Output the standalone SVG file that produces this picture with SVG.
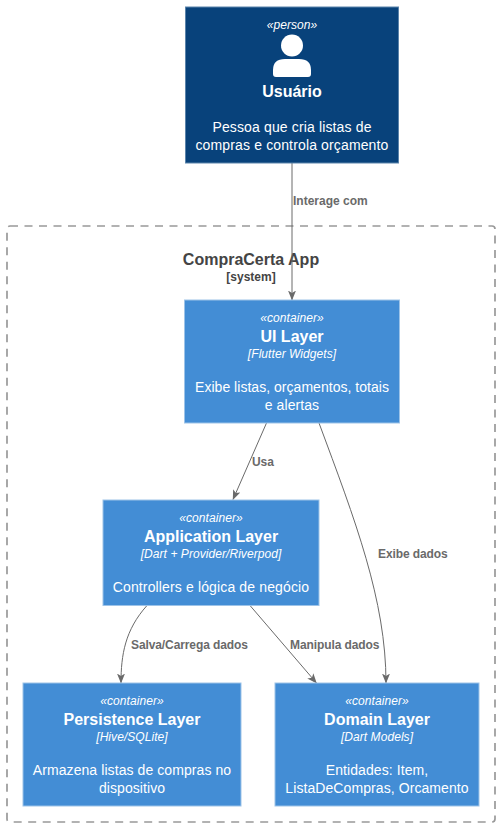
<svg xmlns="http://www.w3.org/2000/svg" width="501" height="828" viewBox="0 0 501 828">
<style>
text{font-family:"Liberation Sans",Arial,sans-serif;text-anchor:middle}
.box{fill:#438DD5;stroke:#9DC3E8;stroke-width:1}
.st{font-size:12px;font-style:italic;fill:#fff;letter-spacing:.06px}
.ti{font-size:16px;font-weight:bold;fill:#fff}
.de{font-size:14px;fill:#fff;letter-spacing:.08px}
.de2{letter-spacing:.14px}
.c{fill:none;stroke:#6a6a6a;stroke-width:1}
.l{font-size:12px;font-weight:bold;fill:#6a6a6a;text-anchor:start;letter-spacing:-.1px}
</style>
<defs><marker id="a" markerUnits="userSpaceOnUse" markerWidth="10" markerHeight="10" refX="9.500" refY="4" orient="auto"><path d="M0 0L10 4L0 8L2.500 4Z" fill="#6a6a6a"/></marker></defs>
<rect width="501" height="828" fill="#fff"/>
<g id="system">
<rect x="7" y="226" width="488" height="596" rx="3" fill="none" stroke="#999" stroke-width="1.7" stroke-dasharray="8 6.500"/>
<text x="251" y="265" font-size="16" font-weight="bold" fill="#444">CompraCerta App</text>
<text x="251" y="281" font-size="12" font-weight="bold" fill="#444">[system]</text>
</g>
<g id="connectors">
<path class="c" d="M292 163V300" marker-end="url(#a)"/>
<path class="c" d="M266.500 423L233 499.500" marker-end="url(#a)"/>
<path class="c" d="M319 423C355 520 386 600 386 683" marker-end="url(#a)"/>
<path class="c" d="M147 605.500C125 630 121 655 121 683" marker-end="url(#a)"/>
<path class="c" d="M250 605.500L316.500 683" marker-end="url(#a)"/>
<text class="l" x="293" y="205" style="letter-spacing:0">Interage com</text>
<text class="l" x="252" y="466">Usa</text>
<text class="l" x="378" y="558">Exibe dados</text>
<text class="l" x="131" y="649">Salva/Carrega dados</text>
<text class="l" x="290" y="649">Manipula dados</text>
</g>
<g id="usuario">
<rect x="185.500" y="7" width="213" height="156" fill="#08427B" stroke="#5B84AB"/>
<text class="st" x="292" y="29">«person»</text>
<circle cx="292" cy="45.500" r="11" fill="#fff"/>
<path d="M273 77V70Q273 59 285 59H299Q311 59 311 70V74Q311 77 308 77H276Q273 77 273 74Z" fill="#fff"/>
<text class="ti" x="292" y="97">Usuário</text>
<text class="de de2" x="292" y="132">Pessoa que cria listas de</text>
<text class="de de2" x="292" y="150">compras e controla orçamento</text>
</g>
<g id="ui-layer">
<rect class="box" x="184.500" y="300" width="215" height="123"/>
<text class="st" x="292" y="322">«container»</text>
<text class="ti" x="292" y="342">UI Layer</text>
<text class="st" x="292" y="358">[Flutter Widgets]</text>
<text class="de" x="292" y="392" style="letter-spacing:.03px">Exibe listas, orçamentos, totais</text>
<text class="de" x="292" y="410">e alertas</text>
</g>
<g id="application-layer">
<rect class="box" x="103" y="500" width="216" height="105.500"/>
<text class="st" x="211" y="522">«container»</text>
<text class="ti" x="211" y="542">Application Layer</text>
<text class="st" x="211" y="558">[Dart + Provider/Riverpod]</text>
<text class="de de2" x="211" y="592">Controllers e lógica de negócio</text>
</g>
<g id="persistence-layer">
<rect class="box" x="23" y="683" width="218" height="123"/>
<text class="st" x="132" y="705">«container»</text>
<text class="ti" x="132" y="725">Persistence Layer</text>
<text class="st" x="132" y="741">[Hive/SQLite]</text>
<text class="de" x="132" y="775">Armazena listas de compras no</text>
<text class="de" x="132" y="793">dispositivo</text>
</g>
<g id="domain-layer">
<rect class="box" x="275" y="683" width="204" height="123"/>
<text class="st" x="377" y="705">«container»</text>
<text class="ti" x="377" y="725">Domain Layer</text>
<text class="st" x="377" y="741">[Dart Models]</text>
<text class="de" x="377" y="775">Entidades: Item,</text>
<text class="de" x="377" y="793">ListaDeCompras, Orcamento</text>
</g>
</svg>
